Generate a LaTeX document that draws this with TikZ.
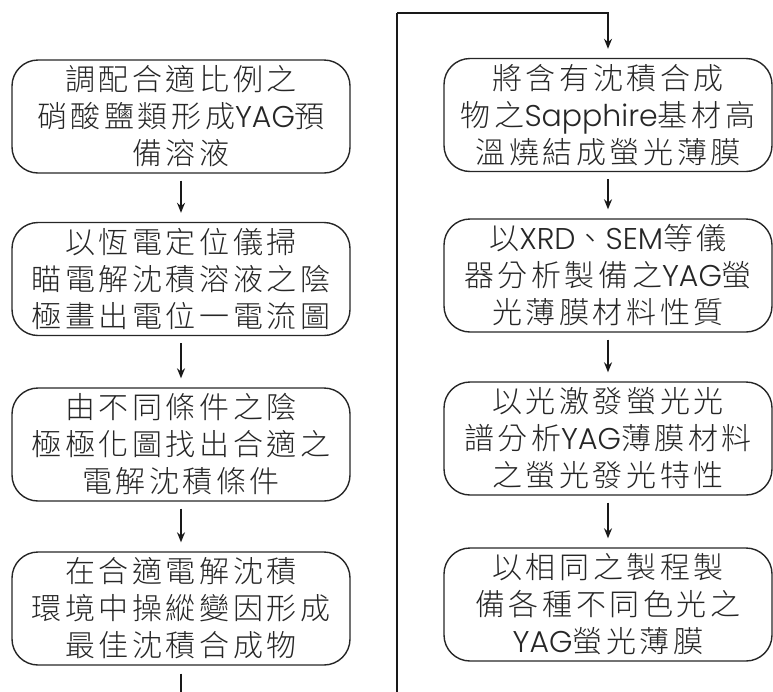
\documentclass[tikz,border=0pt]{standalone}
\usepackage{fontspec}
\setmainfont{Noto Sans CJK TC Light}[LetterSpace=12]
\newfontfamily\lat{Poppins Light}
\usetikzlibrary{arrows.meta}
\begin{document}
\begin{tikzpicture}[x=1pt,y=-1pt,
  stepbox/.style={draw=black!85,line width=1.4pt,rounded corners=26pt,
    minimum height=113pt,align=center,inner sep=0pt,text=black!85,
    font=\fontsize{30}{37}\selectfont},
  lbox/.style={stepbox,minimum width=338pt},
  rbox/.style={stepbox,minimum width=328pt},
  conn/.style={draw=black!90,line width=1.4pt},
  arr/.style={conn,-{Stealth[length=10pt,width=8pt]},shorten >=9pt,shorten <=7pt}]
\useasboundingbox (0,0) rectangle (773,691);
\node[lbox] (L1) at (181,116.5) {調配合適比例之\\硝酸鹽類形成{\lat YAG}預\\備溶液};
\node[lbox] (L2) at (181,279) {以恆電定位儀掃\\瞄電解沈積溶液之陰\\極畫出電位一電流圖};
\node[lbox] (L3) at (181,444.5) {由不同條件之陰\\極極化圖找出合適之\\電解沈積條件};
\node[lbox] (L4) at (181,608.5) {在合適電解沈積\\環境中操縱變因形成\\最佳沈積合成物};
\node[rbox] (R5) at (608,115) {將含有沈積合成\\物之{\lat Sapphire}基材高\\溫燒結成螢光薄膜};
\node[rbox] (R6) at (608,275.5) {以{\lat XRD}、{\lat SEM}等儀\\器分析製備之{\lat YAG}螢\\光薄膜材料性質};
\node[rbox] (R7) at (608,438.5) {以光激發螢光光\\譜分析{\lat YAG}薄膜材料\\之螢光發光特性};
\node[rbox] (R8) at (608,604.5) {以相同之製程製\\備各種不同色光之\\{\lat YAG}螢光薄膜};
\draw[arr] (L1) -- (L2);
\draw[arr] (L2) -- (L3);
\draw[arr] (L3) -- (L4);
\draw[arr] (R5) -- (R6);
\draw[arr] (R6) -- (R7);
\draw[arr] (R7) -- (R8);
\coordinate (c1) at (181,720);
\coordinate (c2) at (397,720);
\coordinate (c3) at (397,13);
\draw[conn,shorten <=8pt] (L4.south) -- (c1) -- (c2) -- (c3);
\draw[arr,shorten <=0pt] (c3) -| (R5.north);
\end{tikzpicture}
\end{document}
